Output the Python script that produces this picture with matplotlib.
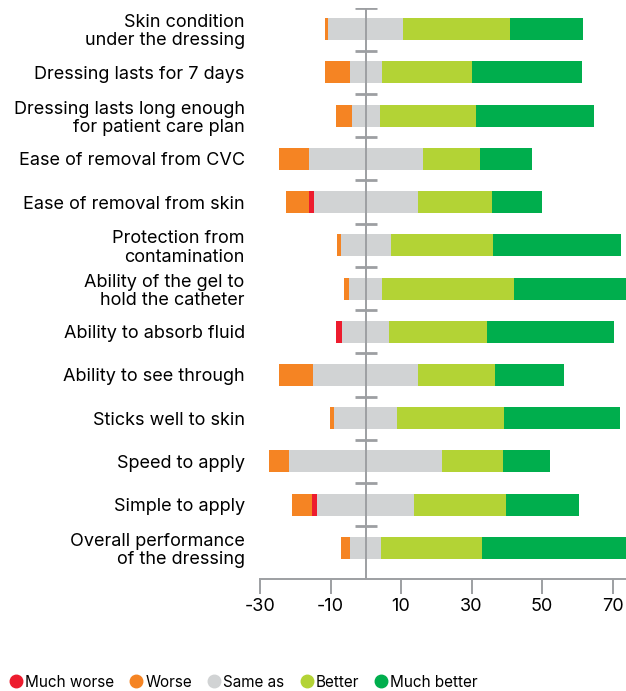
import numpy as np
import matplotlib.pyplot as plt
from matplotlib.lines import Line2D

plt.rcParams['font.family'] = ['Inter', 'DejaVu Sans']

categories = [
    "Skin condition\nunder the dressing",
    "Dressing lasts for 7 days",
    "Dressing lasts long enough\nfor patient care plan",
    "Ease of removal from CVC",
    "Ease of removal from skin",
    "Protection from\ncontamination",
    "Ability of the gel to\nhold the catheter",
    "Ability to absorb fluid",
    "Ability to see through",
    "Sticks well to skin",
    "Speed to apply",
    "Simple to apply",
    "Overall performance\nof the dressing",
]

# values (% of responses)
much_worse = np.array([0, 0, 0, 0, 1.4, 0, 0, 1.7, 0, 0, 0, 1.4, 0])
worse = np.array([0.9, 7.1, 4.5, 8.5, 6.5, 1.1, 1.4, 0, 9.6, 1.1, 5.7, 5.7, 2.6])
same_as = np.array([21.3, 9.1, 7.9, 32.3, 29.5, 14.2, 9.4, 13.3, 29.8, 17.9, 43.4, 27.5, 8.8])
better = np.array([30.3, 25.5, 27.2, 16.2, 21.0, 28.9, 37.4, 27.8, 21.8, 30.3, 17.3, 26.1, 28.6])
much_better = np.array([20.7, 31.2, 33.7, 14.7, 14.2, 36.3, 33.0, 36.0, 19.6, 32.9, 13.3, 20.7, 41.0])

ticks = [-30, -10, 10, 30, 50, 70]

colors = {
    "Much worse": "#ed1c2e",
    "Worse": "#f58423",
    "Same as": "#d1d3d4",
    "Better": "#b3d335",
    "Much better": "#00ae4d",
}
axis_grey = "#9d9fa2"

fig = plt.figure(figsize=(6.26, 6.91), dpi=100)
ax = fig.add_axes([260 / 626, 1 - 579 / 691, 366 / 626, 571 / 691])

y = np.arange(len(categories))
h = 0.51

# "same as" is centred on zero; negatives stack leftwards, positives rightwards
same_left = -same_as / 2
ax.barh(y, same_as, left=same_left, height=h, color=colors["Same as"], lw=0)
ax.barh(y, much_worse, left=same_left - much_worse, height=h, color=colors["Much worse"], lw=0)
ax.barh(y, worse, left=same_left - much_worse - worse, height=h, color=colors["Worse"], lw=0)
ax.barh(y, better, left=same_as / 2, height=h, color=colors["Better"], lw=0)
ax.barh(y, much_better, left=same_as / 2 + better, height=h, color=colors["Much better"], lw=0)

# zero line with small separators between rows
ax.axvline(0, color=axis_grey, lw=1.4, zorder=3)
ax.plot(np.zeros(len(categories)), y - 0.5, ls='none', marker='_', ms=16,
        mew=2, color=axis_grey, zorder=3)

ax.set_xlim(-30, 73.8)
ax.set_ylim(12.72, -0.49)
ax.set_xticks(ticks)
ax.set_xticklabels([str(t) for t in ticks], fontsize=13)
ax.tick_params(axis='x', direction='out', length=11, width=1.4, color=axis_grey, pad=3)
ax.set_yticks(y)
ax.set_yticklabels(categories, fontsize=13, linespacing=1.1, ha='right')
ax.tick_params(axis='y', length=0, pad=11)

for side in ['top', 'right', 'left']:
    ax.spines[side].set_visible(False)
ax.spines['bottom'].set_color(axis_grey)
ax.spines['bottom'].set_linewidth(1.4)

handles = [Line2D([], [], ls='none', marker='o', ms=9, color=c, label=k)
           for k, c in colors.items()]
fig.legend(handles=handles, loc='center left', bbox_to_anchor=(-0.002, 0.013), ncol=5,
           frameon=False, fontsize=11, handletextpad=0.0, columnspacing=0.85,
           handlelength=1.2, borderpad=0)

fig.savefig("out.png", dpi=100)
